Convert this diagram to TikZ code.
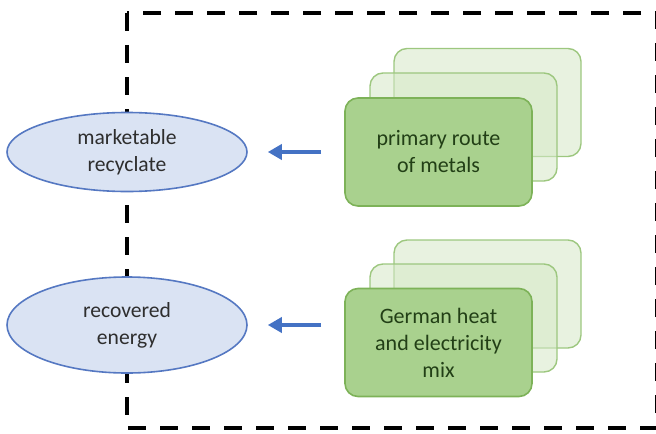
\documentclass[tikz,border=0pt]{standalone}
\usepackage{fontspec}
\setmainfont{Carlito}
\usepackage{tikz}
\usepackage{xcolor}
\usetikzlibrary{arrows.meta, shapes.geometric, calc, positioning}

\definecolor{ellfill}{HTML}{DAE3F3}
\definecolor{elldraw}{HTML}{5578C2}
\definecolor{flowblue}{HTML}{4472C4}
\definecolor{frontfill}{HTML}{A9D18E}
\definecolor{frontdraw}{HTML}{7DB258}
\definecolor{backfill}{HTML}{D5E8C7}
\definecolor{backdraw}{HTML}{9DC77F}
\definecolor{greentext}{HTML}{223F16}
\definecolor{greytext}{HTML}{2E2E2E}

\tikzset{
    frame/.style={line width=2pt, dash pattern=on 9pt off 7pt},
    product/.style={ellipse, draw=elldraw, fill=ellfill, line width=0.8pt, inner sep=0pt,
        minimum width=120pt, text=greytext, align=center,
        font=\fontsize{10.8}{13.5}\selectfont},
    stackbox/.style={rectangle, rounded corners=6.5pt, minimum width=93.5pt, minimum height=54pt,
        inner sep=0pt, align=center},
    frontbox/.style={stackbox, draw=frontdraw, fill=frontfill, line width=0.8pt, text=greentext,
        font=\fontsize{11}{13.5}\selectfont},
    backbox/.style={stackbox, draw=backdraw, fill=backfill, fill opacity=0.55, line width=0.7pt},
    flow/.style={draw=flowblue, line width=2pt, -{Triangle[length=7pt, width=7.5pt]}}
}

\begin{document}
\begin{tikzpicture}[x=0.5pt, y=-0.5pt]
                        \useasboundingbox (0, 0) rectangle (656, 433);
                        \draw[frame] (127, 13) rectangle (657, 428);
                        % products leaving the system
                        \node[product, minimum height=39.5pt] (recyclate) at (127, 152) {marketable\\recyclate};
                        \node[product, minimum height=48pt] (energy) at (127, 325) {recovered\\energy};
                        % substituted routes
                        \node[backbox] (metals3) at (487.5, 102.5) {};
                        \node[backbox] (metals2) at (463.5, 127) {};
                        \node[frontbox] (metals) at (438.5, 152) {primary route\\of metals};
                        \node[backbox] (mix3) at (487.5, 294) {};
                        \node[backbox] (mix2) at (463.5, 318) {};
                        \node[frontbox] (mix) at (438.5, 342.5) {German heat\\and electricity\\mix};
                        \draw[flow, shorten <=11.5pt, shorten >=10pt]
                        (metals.west) -- (recyclate.east);
                        \draw[flow, shorten <=11.5pt, shorten >=10pt]
                        (energy.east -| mix.west) -- (energy.east);
                    \end{tikzpicture}
\end{document}
